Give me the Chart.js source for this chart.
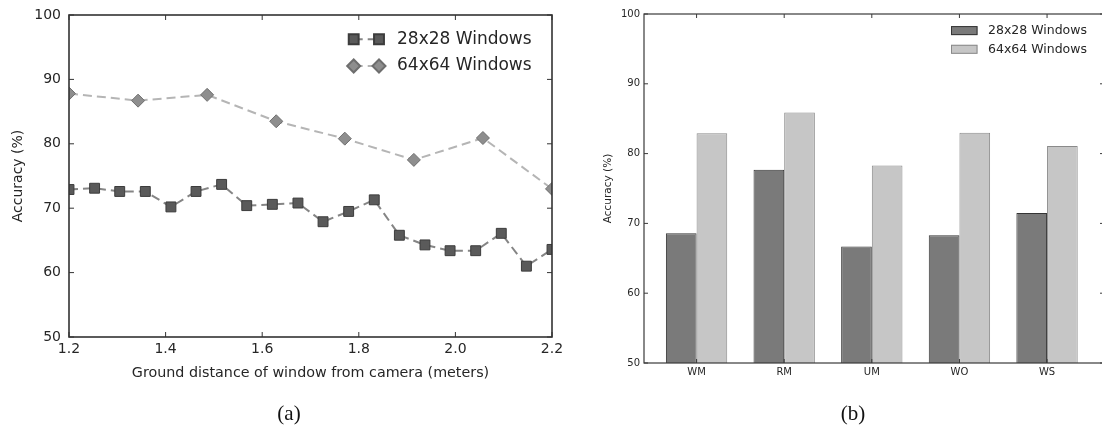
<!DOCTYPE html>
<html>
<head>
<meta charset="utf-8">
<script src="https://cdn.jsdelivr.net/npm/chart.js@4.4.1/dist/chart.umd.min.js"></script>
<style>
  html, body { margin: 0; padding: 0; background: #fff; overflow: hidden; }
  #page { position: relative; width: 1102px; height: 430px; overflow: hidden; }
  #canvasA { position: absolute; left: 0; top: 0; }
  #canvasB { position: absolute; left: 560px; top: 0; }
  .caption { position: absolute; top: 401px; line-height: 24px; font-family: 'Liberation Serif', serif;
             font-size: 21px; color: #111; transform: translateX(-50%); }
</style>
</head>
<body>
<div id="page">
  <canvas id="canvasA" width="600" height="430"></canvas>
  <canvas id="canvasB" width="560" height="430"></canvas>
  <div class="caption" style="left:289px">(a)</div>
  <div class="caption" style="left:853px">(b)</div>
</div>
<script>
// ---- data ----
let seriesNames = ['28x28 Windows', '64x64 Windows'];

// (a) accuracy vs ground distance
let distance28 = [1.2, 1.253, 1.305, 1.358, 1.411, 1.463, 1.516, 1.568, 1.621, 1.674,
                  1.726, 1.779, 1.832, 1.884, 1.937, 1.989, 2.042, 2.095, 2.147, 2.2];
let accuracy28 = [72.9, 73.1, 72.6, 72.6, 70.2, 72.6, 73.7, 70.4, 70.6, 70.8,
                  67.9, 69.5, 71.3, 65.8, 64.3, 63.4, 63.4, 66.1, 61.0, 63.6];
let distance64 = [1.2, 1.343, 1.486, 1.629, 1.771, 1.914, 2.057, 2.2];
let accuracy64 = [87.8, 86.7, 87.6, 83.5, 80.8, 77.5, 80.9, 73.0];
let xTicksA = [1.2, 1.4, 1.6, 1.8, 2.0, 2.2];
let xTickLabelsA = ['1.2', '1.4', '1.6', '1.8', '2.0', '2.2'];

// (b) accuracy per method
let methods = ['WM', 'RM', 'UM', 'WO', 'WS'];
let barAccuracy28 = [68.6, 77.7, 66.7, 68.3, 71.5];
let barAccuracy64 = [82.9, 85.9, 78.3, 83.0, 81.1];

let yTicks = [50, 60, 70, 80, 90, 100];

Chart.defaults.font.family = "'DejaVu Sans', sans-serif";
Chart.defaults.color = '#262626';

// inward ticks on all four sides plus the box, like the old matplotlib style
const frameTicks = {
  id: 'frameTicks',
  afterDraw(chart, args, o) {
    const {ctx, chartArea: a, scales: {x, y}} = chart;
    ctx.save();
    ctx.strokeStyle = o.color;
    ctx.lineWidth = o.tickWidth;
    ctx.beginPath();
    for (const t of x.ticks) {
      const px = x.getPixelForValue(t.value);
      ctx.moveTo(px, a.bottom); ctx.lineTo(px, a.bottom - o.len);
      ctx.moveTo(px, a.top); ctx.lineTo(px, a.top + o.len);
    }
    for (const t of y.ticks) {
      const py = y.getPixelForValue(t.value);
      ctx.moveTo(a.left, py); ctx.lineTo(a.left + o.len, py);
      ctx.moveTo(a.right, py); ctx.lineTo(a.right - o.len, py);
    }
    ctx.stroke();
    ctx.lineWidth = o.width;
    ctx.strokeRect(a.left, a.top, a.right - a.left, a.bottom - a.top);
    ctx.restore();
  }
};

// legend for the line chart: two markers joined by the dashed line
const lineLegend = {
  id: 'lineLegend',
  afterDraw(chart, args, o) {
    const {ctx, chartArea: a} = chart;
    chart.data.datasets.forEach((ds, i) => {
      const yy = a.top + o.top + i * o.rowGap;
      const x1 = a.right - o.fromRight;
      const x2 = x1 + o.span;
      ctx.save();
      ctx.strokeStyle = ds.borderColor;
      ctx.lineWidth = ds.borderWidth;
      ctx.setLineDash(ds.borderDash);
      ctx.beginPath(); ctx.moveTo(x1, yy); ctx.lineTo(x2, yy); ctx.stroke();
      ctx.setLineDash([]);
      ctx.fillStyle = ds.pointBackgroundColor;
      ctx.strokeStyle = ds.pointBorderColor;
      let style = {pointStyle: ds.pointStyle, radius: ds.pointRadius, borderWidth: ds.pointBorderWidth, rotation: 0};
      Chart.helpers.drawPoint(ctx, style, x1, yy);
      Chart.helpers.drawPoint(ctx, style, x2, yy);
      ctx.fillStyle = o.color;
      ctx.font = o.font;
      ctx.textBaseline = 'middle';
      ctx.fillText(ds.label, a.right - o.textFromRight, yy);
      ctx.restore();
    });
  }
};

// legend for the bar chart: patch + label
const barLegend = {
  id: 'barLegend',
  afterDraw(chart, args, o) {
    const {ctx, chartArea: a} = chart;
    chart.data.datasets.forEach((ds, i) => {
      const yy = a.top + o.top + i * o.rowGap;
      const x1 = a.right - o.fromRight;
      ctx.save();
      ctx.fillStyle = ds.backgroundColor;
      ctx.strokeStyle = ds.borderColor;
      ctx.lineWidth = 1;
      ctx.fillRect(x1, yy - o.h / 2, o.w, o.h);
      ctx.strokeRect(x1 + 0.5, yy - o.h / 2 + 0.5, o.w - 1, o.h - 1);
      ctx.fillStyle = o.color;
      ctx.font = o.font;
      ctx.textBaseline = 'middle';
      ctx.fillText(ds.label, a.right - o.textFromRight, yy);
      ctx.restore();
    });
  }
};

// ---- (a) line chart ----
new Chart(document.getElementById('canvasA'), {
  type: 'line',
  data: {
    datasets: [
      {
        label: seriesNames[0],
        data: distance28.map((d, i) => ({x: d, y: accuracy28[i]})),
        borderColor: '#858585', borderWidth: 2, borderDash: [9, 5],
        pointStyle: 'rect', pointRadius: 7,
        pointBackgroundColor: '#5a5a5a', pointBorderColor: '#3c3c3c', pointBorderWidth: 1,
        tension: 0, fill: false, clip: 0
      },
      {
        label: seriesNames[1],
        data: distance64.map((d, i) => ({x: d, y: accuracy64[i]})),
        borderColor: '#b5b5b5', borderWidth: 2, borderDash: [9, 5],
        pointStyle: 'rectRot', pointRadius: 6.5,
        pointBackgroundColor: '#8e8e8e', pointBorderColor: '#6e6e6e', pointBorderWidth: 1,
        tension: 0, fill: false, clip: 0
      }
    ]
  },
  options: {
    responsive: false,
    animation: false,
    events: [],
    layout: {padding: {left: 0, right: 48, top: 15, bottom: 43}},
    scales: {
      x: {
        type: 'linear', min: 1.2, max: 2.2, bounds: 'data',
        afterBuildTicks: s => { s.ticks = xTicksA.map(v => ({value: v})); },
        afterFit: s => { s.height = 50; s.paddingLeft = 0; s.paddingRight = 0; },
        ticks: {callback: (v, i) => xTickLabelsA[i], font: {size: 14}, padding: 4, maxRotation: 0, autoSkip: false},
        grid: {display: false, drawTicks: false},
        border: {display: false},
        title: {display: true, text: 'Ground distance of window from camera (meters)',
                font: {size: 14.3}, padding: {top: 0, bottom: 5.6}}
      },
      y: {
        min: 50, max: 100,
        afterBuildTicks: s => { s.ticks = yTicks.map(v => ({value: v})); },
        afterFit: s => { s.width = 69; s.paddingTop = 0; s.paddingBottom = 0; },
        ticks: {font: {size: 14}, padding: 8},
        grid: {display: false, drawTicks: false},
        border: {display: false},
        title: {display: true, text: 'Accuracy (%)', font: {size: 14}, padding: {top: 9.6, bottom: 0}}
      }
    },
    plugins: {
      legend: {display: false},
      tooltip: {enabled: false},
      frameTicks: {color: '#333', width: 1.6, tickWidth: 1, len: 5},
      lineLegend: {top: 24.3, rowGap: 26.7, fromRight: 198.3, span: 25.3, textFromRight: 155,
                   font: "17px 'DejaVu Sans', sans-serif", color: '#262626'}
    }
  },
  plugins: [frameTicks, lineLegend]
});

// ---- (b) bar chart ----
new Chart(document.getElementById('canvasB'), {
  type: 'bar',
  data: {
    datasets: [
      {
        label: seriesNames[0],
        data: barAccuracy28.map((v, i) => ({x: i, y: v})),
        backgroundColor: '#7a7a7a', borderColor: '#353535', borderWidth: 1,
        borderSkipped: false, categoryPercentage: 0.7, barPercentage: 1, clip: 0
      },
      {
        label: seriesNames[1],
        data: barAccuracy64.map((v, i) => ({x: i, y: v})),
        backgroundColor: '#c6c6c6', borderColor: '#8a8a8a', borderWidth: 1,
        borderSkipped: false, categoryPercentage: 0.7, barPercentage: 1, clip: 0
      }
    ]
  },
  options: {
    responsive: false,
    animation: false,
    events: [],
    layout: {padding: {left: 0, right: 16, top: 14, bottom: 37}},
    scales: {
      x: {
        type: 'linear', min: -0.6, max: 4.65, bounds: 'data', offset: false,
        afterBuildTicks: s => { s.ticks = methods.map((m, i) => ({value: i})); },
        afterFit: s => { s.height = 30; s.paddingLeft = 0; s.paddingRight = 0; },
        ticks: {callback: (v, i) => methods[i], font: {size: 10}, padding: 3, maxRotation: 0, autoSkip: false},
        grid: {display: false, drawTicks: false, offset: false},
        border: {display: false}
      },
      y: {
        min: 50, max: 100,
        afterBuildTicks: s => { s.ticks = yTicks.map(v => ({value: v})); },
        afterFit: s => { s.width = 84; s.paddingTop = 0; s.paddingBottom = 0; },
        ticks: {font: {size: 10}, padding: 4},
        grid: {display: false, drawTicks: false},
        border: {display: false},
        title: {display: true, text: 'Accuracy (%)', font: {size: 10.5}, padding: {top: 41.7, bottom: 0}}
      }
    },
    plugins: {
      legend: {display: false},
      tooltip: {enabled: false},
      frameTicks: {color: '#3a3a3a', width: 1.2, tickWidth: 1, len: 4},
      barLegend: {top: 16.6, rowGap: 18.7, fromRight: 153, w: 26.5, h: 9, textFromRight: 116,
                  font: "12.5px 'DejaVu Sans', sans-serif", color: '#262626'}
    }
  },
  plugins: [frameTicks, barLegend]
});
</script>
</body>
</html>
